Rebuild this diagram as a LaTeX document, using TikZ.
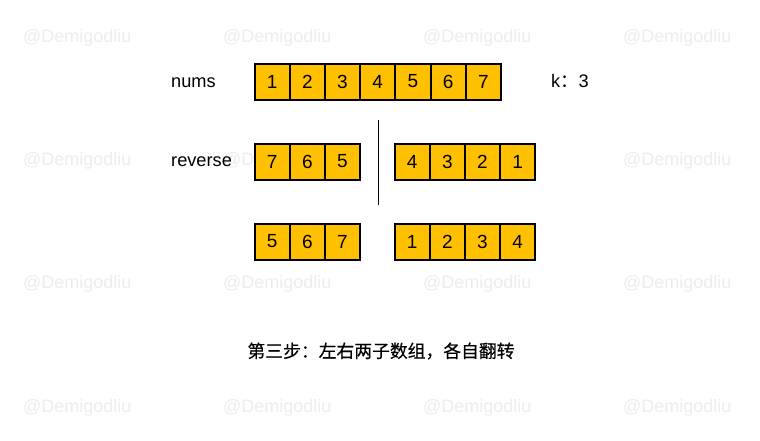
\documentclass[tikz,border=0pt]{standalone}
\usepackage{fontspec}
\setmainfont{Liberation Sans}
\newfontfamily\cjk{Noto Sans CJK SC}
\newfontfamily\cjkb[FakeBold=0.4]{Noto Sans CJK SC}
\definecolor{cellfill}{HTML}{FFC000}
\definecolor{wm}{HTML}{EDEDED}
\begin{document}
\begin{tikzpicture}[x=1pt,y=-1pt,
  cell/.style={draw,line width=2pt,fill=cellfill,minimum width=35.2pt,minimum height=36pt,inner sep=0pt,outer sep=0pt,font=\fontsize{19}{19}\selectfont},
  lbl/.style={anchor=base west,inner sep=0pt,font=\fontsize{18.2}{18.2}\selectfont},
  wmark/.style={anchor=base west,inner sep=0pt,text=wm,font=\fontsize{18}{18}\selectfont},
  divider/.style={line width=1.5pt,draw=black}]
\useasboundingbox (0,0) rectangle (760,440);
\fill[white] (0,0) rectangle (760,440);
% watermarks
\foreach \i/\yy in {1/42,2/165,3/288,4/412}{
  \foreach \j/\xx in {1/23,2/223,3/423,4/623}{
    \node[wmark] (wm\i\j) at (\xx,\yy) {@Demigodliu};
  }
}
% labels
\node[lbl] (nums) at (171,87.5) {nums};
\node[lbl] (rev) at (171,166) {reverse};
\node[lbl] (k) at (551,87.5) {k{\cjk ：}3};
% row 1
\foreach \v [count=\k] in {1,2,3,4,5,6,7}{
  \node[cell] (a\k) at ({254.5+35.2*(\k-0.5)},81.5) {\v};
}
% row 2
\foreach \v [count=\k] in {7,6,5}{
  \node[cell] (bl\k) at ({254.5+35.2*(\k-0.5)},161.5) {\v};
}
\foreach \v [count=\k] in {4,3,2,1}{
  \node[cell] (br\k) at ({394.5+35.2*(\k-0.5)},161.5) {\v};
}
% row 3
\foreach \v [count=\k] in {5,6,7}{
  \node[cell] (cl\k) at ({254.5+35.2*(\k-0.5)},241.5) {\v};
}
\foreach \v [count=\k] in {1,2,3,4}{
  \node[cell] (cr\k) at ({394.5+35.2*(\k-0.5)},241.5) {\v};
}
% divider
\coordinate (vtop) at (378.5,119.5);
\coordinate (vbot) at (378.5,204.5);
\draw[divider] (vtop) -- (vbot);
% caption
\node[inner sep=0pt,font=\cjkb\fontsize{17.8}{17.8}\selectfont] (cap) at (381,351) {第三步：左右两子数组，各自翻转};
\end{tikzpicture}
\end{document}
